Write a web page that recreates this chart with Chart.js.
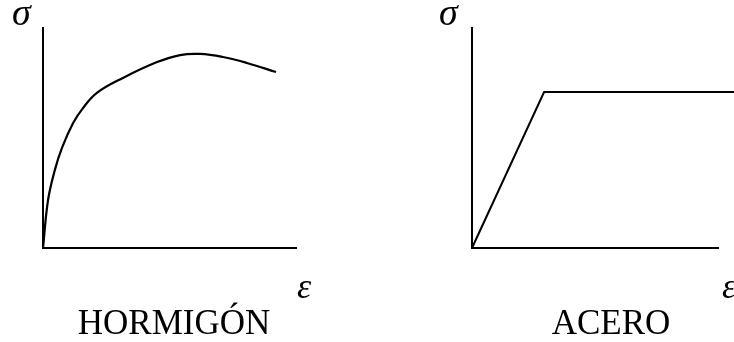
<!DOCTYPE html>
<html>
<head>
<meta charset="utf-8">
<script src="https://cdn.jsdelivr.net/npm/chart.js@4/dist/chart.umd.min.js"></script>
<style>
    body { margin: 0; background: #fff; }
    #wrap { position: relative; width: 734px; height: 342px; overflow: hidden; }
    canvas { position: absolute; top: 0; }
</style>
</head>
<body>
<div id="wrap">
    <canvas id="hormigon" width="367" height="342" style="left:0"></canvas>
    <canvas id="acero" width="367" height="342" style="left:367px"></canvas>
</div>
<script>
// Curva tensión-deformación del hormigón (unidades relativas, 0-100)
const hormigonDeformacion = [0, 2.0, 4.7, 7.5, 11.9, 15.8, 21.3, 31.6, 45.1, 54.2, 62.1, 71.1, 80.6, 92.1];
const hormigonTension     = [0, 21.8, 35.5, 45.5, 56.8, 63.6, 70.5, 77.3, 84.5, 87.7, 88.2, 86.8, 84.1, 80.0];

// Diagrama bilineal del acero: tramo elástico y escalón de fluencia
const aceroDeformacion = [0, 29.3, 106.5];
const aceroTension     = [0, 70.9, 70.9];

const toPoints = (xs, ys) => xs.map((x, i) => ({ x: x, y: ys[i] }));

// Dibuja σ, ε y el nombre del material alrededor de los ejes
const etiquetas = {
    id: 'etiquetas',
    afterDraw(chart, args, opts) {
        const ctx = chart.ctx;
        const area = chart.chartArea;
        ctx.save();
        ctx.fillStyle = '#000';
        ctx.textBaseline = 'alphabetic';
        ctx.textAlign = 'left';
        ctx.font = 'italic 38px "Liberation Serif", "DejaVu Serif", serif';
        ctx.fillText('σ', area.left + opts.sigmaDx, area.top - 3);
        ctx.font = 'italic 36px "Liberation Serif", "DejaVu Serif", serif';
        ctx.fillText('ε', area.right + opts.epsDx, area.bottom + 50);
        ctx.font = '35px "Liberation Serif", "Times New Roman", serif';
        ctx.textAlign = 'center';
        ctx.fillText(opts.titulo, opts.tituloX, area.bottom + 86);
        ctx.restore();
    }
};

function ejes() {
    const eje = {
        type: 'linear',
        min: 0,
        max: 100,
        ticks: { display: false },
        grid: { display: false, drawTicks: false },
        border: { display: true, color: '#000', width: 2 }
    };
    return { x: Object.assign({}, eje), y: Object.assign({}, eje) };
}

new Chart(document.getElementById('hormigon'), {
    type: 'line',
    data: {
        datasets: [{
            data: toPoints(hormigonDeformacion, hormigonTension),
            borderColor: '#000',
            borderWidth: 2.2,
            pointRadius: 0,
            tension: 0.4,
            fill: false
        }]
    },
    options: {
        responsive: false,
        animation: false,
        devicePixelRatio: 1,
        layout: { padding: { left: 43, top: 28, right: 71, bottom: 94 } },
        scales: ejes(),
        plugins: {
            legend: { display: false },
            tooltip: { enabled: false },
            etiquetas: { titulo: 'HORMIGÓN', tituloX: 174, sigmaDx: -31, epsDx: 1 }
        }
    },
    plugins: [etiquetas]
});

new Chart(document.getElementById('acero'), {
    type: 'line',
    data: {
        datasets: [{
            data: toPoints(aceroDeformacion, aceroTension),
            borderColor: '#000',
            borderWidth: 2,
            borderJoinStyle: 'miter',
            pointRadius: 0,
            tension: 0,
            fill: false,
            clip: false
        }]
    },
    options: {
        responsive: false,
        animation: false,
        devicePixelRatio: 1,
        layout: { padding: { left: 105, top: 28, right: 16, bottom: 94 } },
        scales: ejes(),
        plugins: {
            legend: { display: false },
            tooltip: { enabled: false },
            etiquetas: { titulo: 'ACERO', tituloX: 244, sigmaDx: -33, epsDx: 4 }
        }
    },
    plugins: [etiquetas]
});
</script>
</body>
</html>
